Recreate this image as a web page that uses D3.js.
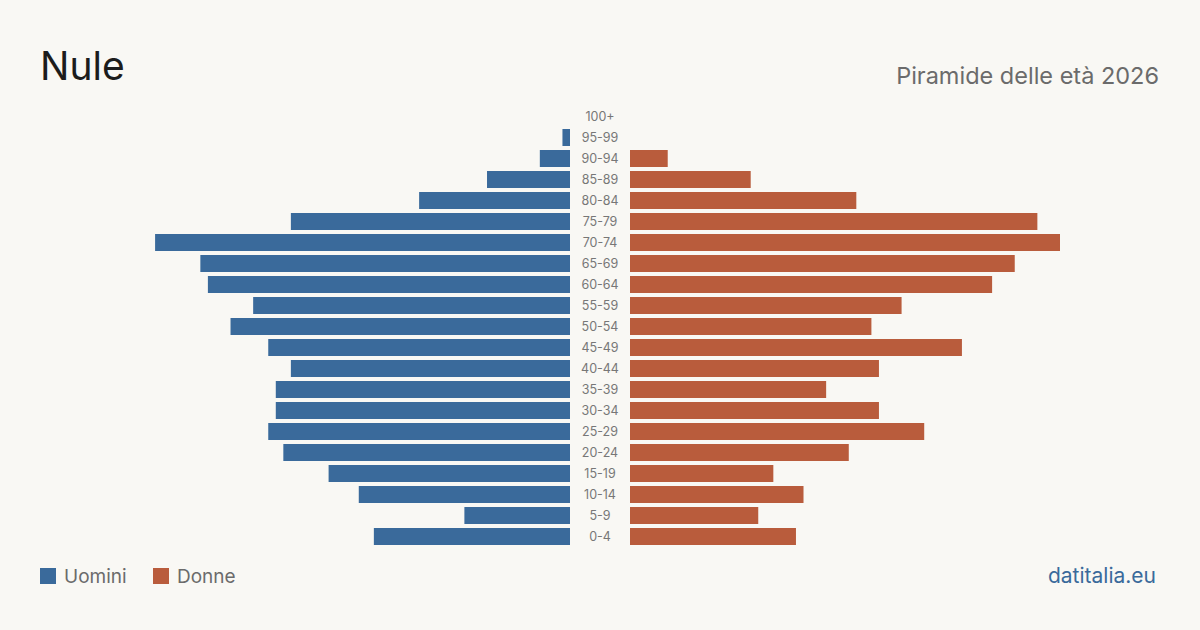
<!DOCTYPE html>
<html>
<head>
<meta charset="utf-8">
<script src="https://cdn.jsdelivr.net/npm/d3@7"></script>
<style>
  html, body { margin: 0; padding: 0; background: #f9f8f4; }
  svg { display: block; font-family: Inter, "Noto Sans", sans-serif; }
</style>
</head>
<body>
<div id="chart"></div>
<script>
// age classes, top to bottom
var ages = ["100+", "95-99", "90-94", "85-89", "80-84", "75-79", "70-74", "65-69", "60-64",
            "55-59", "50-54", "45-49", "40-44", "35-39", "30-34", "25-29", "20-24",
            "15-19", "10-14", "5-9", "0-4"];
var uomini = [0, 1, 4, 11, 20, 37, 55, 49, 48, 42, 45, 40, 37, 39, 39, 40, 38, 32, 28, 14, 26];
var donne  = [0, 0, 5, 16, 30, 54, 57, 51, 48, 36, 32, 44, 33, 26, 33, 39, 29, 19, 23, 17, 22];

var width = 1200, height = 630;
var blue = "#3a6a9b", red = "#b95c3c";

var svg = d3.select("#chart").append("svg")
  .attr("width", width)
  .attr("height", height);

svg.append("rect").attr("width", width).attr("height", height).attr("fill", "#f9f8f4");

var y = d3.scaleBand()
  .domain(ages)
  .range([106, 547])
  .paddingInner(4 / 21)
  .paddingOuter(2 / 21);

var x = d3.scaleLinear()
  .domain([0, 57])
  .range([0, 430]);

var leftEdge = 570, rightEdge = 630;

// men, to the left
svg.append("g").selectAll("rect")
  .data(ages)
  .enter().append("rect")
  .attr("x", function(d, i) { return leftEdge - x(uomini[i]); })
  .attr("y", function(d) { return y(d); })
  .attr("width", function(d, i) { return x(uomini[i]); })
  .attr("height", y.bandwidth())
  .attr("fill", blue);

// women, to the right
svg.append("g").selectAll("rect")
  .data(ages)
  .enter().append("rect")
  .attr("x", rightEdge)
  .attr("y", function(d) { return y(d); })
  .attr("width", function(d, i) { return x(donne[i]); })
  .attr("height", y.bandwidth())
  .attr("fill", red);

// age labels in the middle
svg.append("g").selectAll("text")
  .data(ages)
  .enter().append("text")
  .attr("x", 600)
  .attr("y", function(d) { return y(d) + y.bandwidth() / 2; })
  .attr("dy", "0.35em")
  .attr("text-anchor", "middle")
  .attr("font-size", 12.5)
  .attr("fill", "#777")
  .text(function(d) { return d; });

// title
svg.append("text")
  .attr("x", 40).attr("y", 80)
  .attr("font-size", 39)
  .attr("fill", "#1c1c1c")
  .text("Nule");

svg.append("text")
  .attr("x", 1159).attr("y", 84)
  .attr("text-anchor", "end")
  .attr("font-size", 23.5)
  .attr("fill", "#6b6b6b")
  .text("Piramide delle età 2026");

// legend
var legend = svg.append("g").attr("transform", "translate(40,568)");
[["Uomini", blue, 0], ["Donne", red, 113]].forEach(function(l) {
  legend.append("rect").attr("x", l[2]).attr("y", 0).attr("width", 16).attr("height", 16).attr("fill", l[1]);
  legend.append("text").attr("x", l[2] + 24).attr("y", 15)
    .attr("font-size", 19).attr("fill", "#6b6b6b").text(l[0]);
});

svg.append("text")
  .attr("x", 1156).attr("y", 583)
  .attr("text-anchor", "end")
  .attr("font-size", 21)
  .attr("fill", blue)
  .text("datitalia.eu");
</script>
</body>
</html>
